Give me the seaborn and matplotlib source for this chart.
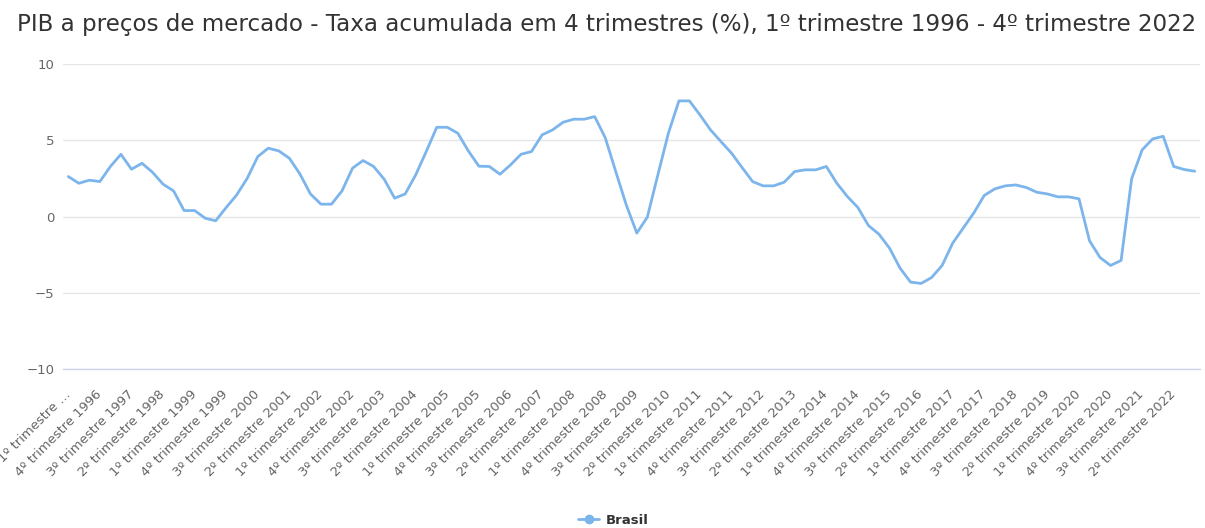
import numpy as np
import pandas as pd
import matplotlib
matplotlib.use("Agg")
import matplotlib.pyplot as plt
import seaborn as sns

# data: 4-quarter accumulated GDP growth (%), 1Q1996 - 4Q2022
years = list(range(1996, 2023))
quarters = ["1º", "2º", "3º", "4º"]
taxa = [
    2.62, 2.18, 2.38, 2.29, 3.28, 4.08, 3.10, 3.49, 2.90, 2.12, 1.68, 0.39,
    0.39, -0.11, -0.28, 0.59, 1.42, 2.51, 3.93, 4.48, 4.30, 3.82, 2.79, 1.48,
    0.81, 0.81, 1.68, 3.17, 3.67, 3.28, 2.45, 1.20, 1.48, 2.73, 4.26, 5.85,
    5.85, 5.46, 4.30, 3.30, 3.28, 2.77, 3.38, 4.08, 4.26, 5.35, 5.68, 6.18,
    6.38, 6.38, 6.55, 5.17, 2.95, 0.76, -1.09, -0.04, 2.73, 5.46, 7.58, 7.58,
    6.66, 5.68, 4.91, 4.15, 3.21, 2.29, 2.01, 2.01, 2.25, 2.95, 3.06, 3.06,
    3.28, 2.18, 1.31, 0.59, -0.59, -1.16, -2.07, -3.38, -4.30, -4.39, -4.00, -3.21,
    -1.75, -0.76, 0.22, 1.38, 1.81, 2.01, 2.07, 1.90, 1.59, 1.48, 1.29, 1.29,
    1.16, -1.59, -2.69, -3.21, -2.88, 2.47, 4.37, 5.09, 5.26, 3.28, 3.08, 2.97,
]
categorias = [f"{q} trimestre {y}" for y in years for q in quarters]

df = pd.DataFrame({"pos": np.arange(len(taxa)), "taxa": taxa, "categoria": categorias})

sns.set_style("white")
plt.rcParams["font.family"] = ["DejaVu Sans"]

fig = plt.figure(figsize=(12.05, 5.28), dpi=100)
ax = fig.add_axes([0.0523, 0.3011, 0.9436, 0.5777])

sns.lineplot(data=df, x="pos", y="taxa", ax=ax, color="#7cb5ec", linewidth=2.0, legend=False)

ax.set_xlim(-0.5, len(taxa) - 0.5)
ax.set_ylim(-10, 10)
ax.set_yticks([-10, -5, 0, 5, 10])
ax.set_yticklabels(["\u221210", "\u22125", "0", "5", "10"])
ax.grid(axis="y", color="#e6e6e6", linewidth=1)
ax.grid(axis="x", visible=False)
for s in ["top", "right", "left"]:
    ax.spines[s].set_visible(False)
ax.spines["bottom"].set_color("#ccd6eb")
ax.spines["bottom"].set_linewidth(1)
ax.tick_params(axis="y", length=0, labelsize=9.5, labelcolor="#666666", pad=6)

tick_pos = df["pos"].values[::3]
tick_lab = list(df["categoria"].values[::3])
tick_lab[0] = "1º trimestre …"  # truncated in the original, runs off the left edge
ax.set_xticks(tick_pos)
ax.set_xticklabels(tick_lab, rotation=45, ha="right", va="center", rotation_mode="anchor")
ax.tick_params(axis="x", length=8, width=1, color="#ccd6eb", labelsize=9.4, labelcolor="#666666", pad=9)
ax.set_xlabel("")
ax.set_ylabel("")

fig.suptitle("PIB a preços de mercado - Taxa acumulada em 4 trimestres (%), 1º trimestre 1996 - 4º trimestre 2022",
             x=0.503, y=0.975, va="top", fontsize=16.6, color="#333333")

handle = plt.Line2D([], [], color="#7cb5ec", linewidth=2, marker="o", markersize=6)
fig.legend([handle], ["Brasil"], loc="center", bbox_to_anchor=(0.509, 0.015), frameon=False,
           prop={"weight": "bold", "size": 9.5}, labelcolor="#333333", handlelength=1.6,
           handletextpad=0.5)

fig.savefig("out.png", dpi=100)
